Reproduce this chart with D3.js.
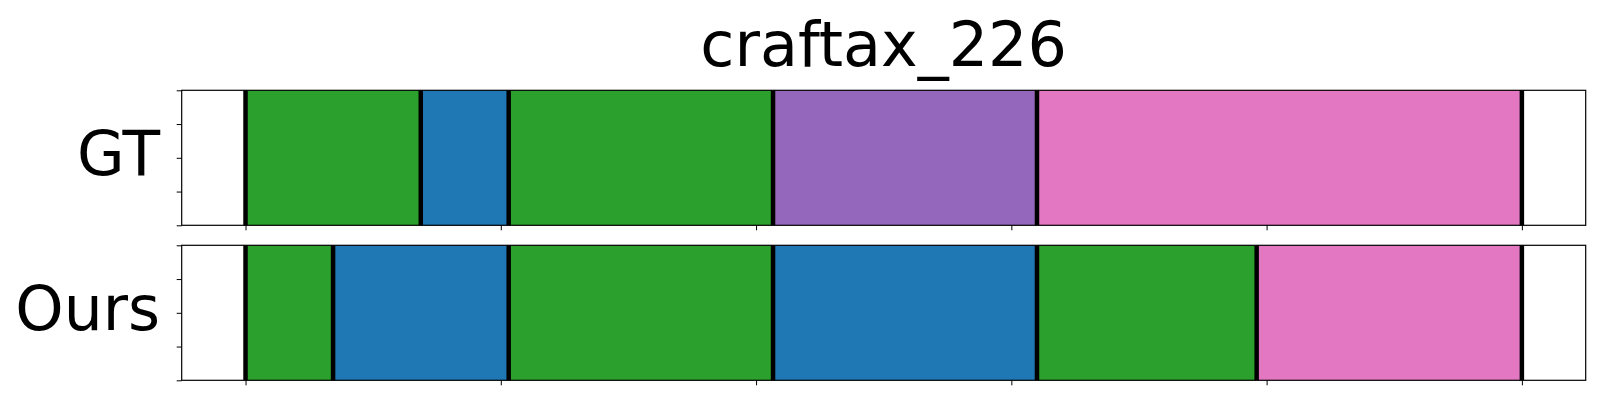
<!DOCTYPE html>
<html>
<head>
<meta charset="utf-8">
<script src="https://cdn.jsdelivr.net/npm/d3@7"></script>
<style>
  html, body { margin: 0; padding: 0; background: #fff; }
  svg { display: block; font-family: "DejaVu Sans", sans-serif; }
</style>
</head>
<body>
<svg id="chart" width="1600" height="400"></svg>
<script>
// ---- data ----
const title = "craftax_226";
const rowNames = ["GT", "Ours"];
// segment boundaries (fraction of the episode)
const gtBounds = [0, 0.1373, 0.2062, 0.4133, 0.6201, 1.0];
const gtClasses = [2, 0, 2, 4, 6];          // tab10 class index per segment
const oursBounds = [0, 0.0686, 0.2062, 0.4133, 0.6201, 0.7922, 1.0];
const oursClasses = [2, 0, 2, 0, 2, 6];
const xTicks = [0, 0.2, 0.4, 0.6, 0.8, 1.0];
const yTicks = [0, 0.25, 0.5, 0.75, 1.0];

const palette = d3.schemeCategory10;
const rows = [
  { name: rowNames[0], bounds: gtBounds, classes: gtClasses },
  { name: rowNames[1], bounds: oursBounds, classes: oursClasses }
];

const svg = d3.select("#chart");
const left = 181.7, right = 1585.7;
const axTops = [90.3, 245.3];
const axH = 135;

const x = d3.scaleLinear().domain([-0.05, 1.05]).range([left, right]);

svg.append("text")
  .attr("x", (left + right) / 2)
  .attr("y", 66)
  .attr("text-anchor", "middle")
  .attr("font-size", 62)
  .attr("fill", "#000")
  .text(title);

rows.forEach((r, i) => {
  const top = axTops[i];
  const y = d3.scaleLinear().domain([0, 1]).range([top + axH, top]);
  const g = svg.append("g");

  // segments
  const segs = r.classes.map((c, k) => ({ x0: r.bounds[k], x1: r.bounds[k + 1], c }));
  g.selectAll("rect.seg").data(segs).join("rect")
    .attr("class", "seg")
    .attr("x", d => x(d.x0))
    .attr("width", d => x(d.x1) - x(d.x0))
    .attr("y", y(1))
    .attr("height", y(0) - y(1))
    .attr("fill", d => palette[d.c]);

  // boundary lines
  g.selectAll("line.bd").data(r.bounds).join("line")
    .attr("class", "bd")
    .attr("x1", d => x(d)).attr("x2", d => x(d))
    .attr("y1", y(1)).attr("y2", y(0))
    .attr("stroke", "#000")
    .attr("stroke-width", 4.5);

  // axes
  const xAxis = d3.axisBottom(x).tickValues(xTicks).tickFormat("").tickSize(5).tickSizeOuter(0);
  const gx = g.append("g").attr("transform", `translate(0,${top + axH})`).call(xAxis);
  gx.select(".domain").remove();
  gx.selectAll(".tick line").attr("stroke", "#000").attr("stroke-width", 1);

  const yAxis = d3.axisLeft(y).tickValues(yTicks).tickFormat("").tickSize(5).tickSizeOuter(0);
  const gy = g.append("g").attr("transform", `translate(${left},0)`).call(yAxis);
  gy.select(".domain").remove();
  gy.selectAll(".tick line").attr("stroke", "#000").attr("stroke-width", 1);

  // frame
  g.append("rect")
    .attr("x", left).attr("y", top)
    .attr("width", right - left).attr("height", axH)
    .attr("fill", "none").attr("stroke", "#000").attr("stroke-width", 1.2);

  // row label
  g.append("text")
    .attr("x", 160)
    .attr("y", top + axH / 2 + 17.5)
    .attr("text-anchor", "end")
    .attr("font-size", 61.5)
    .attr("fill", "#000")
    .text(r.name);
});
</script>
</body>
</html>
